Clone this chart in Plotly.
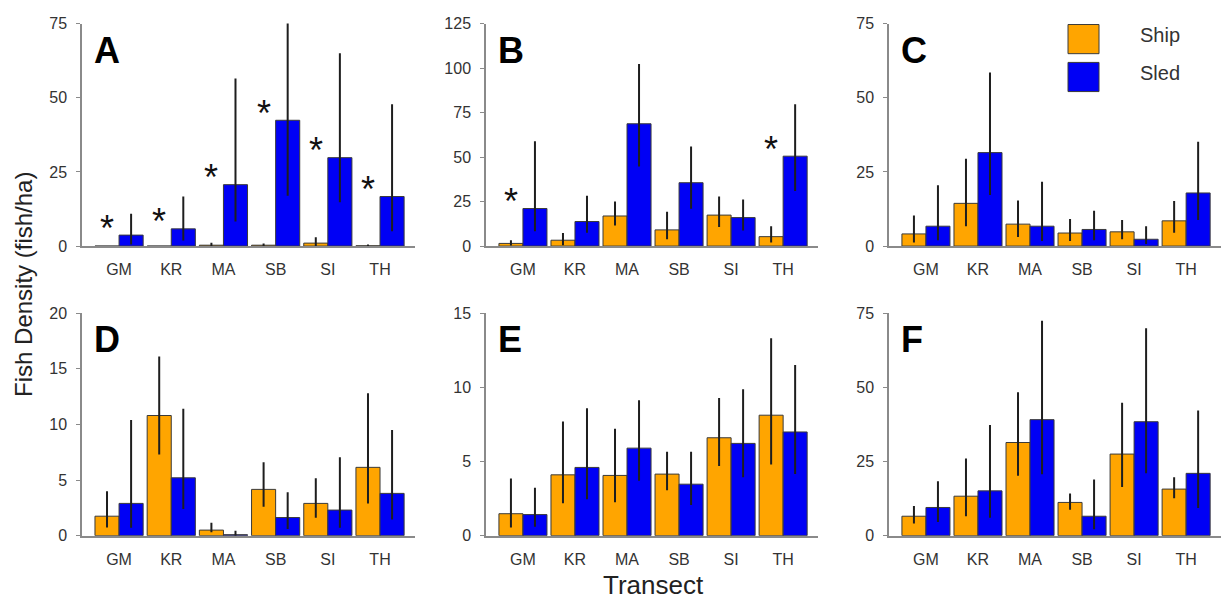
import plotly.graph_objects as go

categories = ["GM", "KR", "MA", "SB", "SI", "TH"]
panel_letters = ["A", "B", "C", "D", "E", "F"]
y_max = [75, 125, 75, 20, 15, 75]
y_dtick = [25, 25, 25, 5, 5, 25]

# Panel A
ship_A = [0.0, 0.0, 0.3, 0.3, 1.0, 0.1]
ship_A_hi = [0.0, 0.0, 1.1, 0.9, 3.0, 0.5]
ship_A_lo = [0.0, 0.0, 0.0, 0.0, 0.0, 0.0]
sled_A = [3.7, 5.8, 20.7, 42.4, 29.8, 16.7]
sled_A_hi = [10.9, 16.7, 56.5, 82.0, 65.0, 47.8]
sled_A_lo = [0.5, 1.9, 8.3, 17.0, 14.8, 5.0]
sig_A = [1, 1, 1, 1, 1, 1]

# Panel B
ship_B = [1.5, 3.3, 16.9, 9.1, 17.4, 5.3]
ship_B_hi = [3.3, 7.4, 25.0, 19.3, 27.8, 11.1]
ship_B_lo = [0.3, 0.5, 11.6, 3.8, 10.7, 2.0]
sled_B = [21.1, 13.8, 68.7, 35.6, 16.0, 50.5]
sled_B_hi = [58.9, 28.3, 102.3, 56.0, 26.2, 79.6]
sled_B_lo = [8.4, 7.5, 44.7, 21.0, 8.7, 31.0]
sig_B = [1, 0, 0, 0, 0, 1]

# Panel C
ship_C = [4.1, 14.4, 7.4, 4.4, 4.8, 8.5]
ship_C_hi = [10.3, 29.4, 15.4, 9.1, 8.8, 15.2]
ship_C_lo = [1.2, 6.7, 3.1, 1.7, 2.3, 4.5]
sled_C = [6.7, 31.5, 6.7, 5.6, 2.3, 17.9]
sled_C_hi = [20.5, 58.5, 21.7, 11.9, 6.7, 35.2]
sled_C_lo = [2.0, 17.2, 1.7, 2.0, 0.7, 8.8]
sig_C = [0, 0, 0, 0, 0, 0]

# Panel D
ship_D = [1.75, 10.8, 0.5, 4.16, 2.9, 6.14]
ship_D_hi = [4.0, 16.1, 1.16, 6.6, 5.15, 12.8]
ship_D_lo = [0.73, 7.3, 0.3, 2.6, 1.6, 2.9]
sled_D = [2.9, 5.2, 0.09, 1.63, 2.3, 3.8]
sled_D_hi = [10.4, 11.4, 0.44, 3.9, 7.05, 9.5]
sled_D_lo = [0.7, 2.4, 0.0, 0.6, 0.7, 1.46]
sig_D = [0, 0, 0, 0, 0, 0]

# Panel E
ship_E = [1.48, 4.1, 4.06, 4.15, 6.6, 8.12]
ship_E_hi = [3.86, 7.69, 7.2, 5.65, 9.28, 13.3]
ship_E_lo = [0.55, 2.18, 2.25, 3.06, 4.7, 4.8]
sled_E = [1.42, 4.6, 5.9, 3.47, 6.22, 6.99]
sled_E_hi = [3.23, 8.58, 9.13, 5.65, 9.87, 11.5]
sled_E_lo = [0.6, 2.45, 3.7, 2.07, 3.93, 4.15]
sig_E = [0, 0, 0, 0, 0, 0]

# Panel F
ship_F = [6.55, 13.3, 31.4, 11.2, 27.5, 15.7]
ship_F_hi = [10.0, 26.0, 48.3, 14.2, 44.8, 19.7]
ship_F_lo = [4.1, 6.55, 20.2, 8.7, 16.4, 12.6]
sled_F = [9.5, 15.1, 39.1, 6.55, 38.4, 21.0]
sled_F_hi = [18.3, 37.3, 72.4, 18.9, 69.9, 42.2]
sled_F_lo = [4.6, 6.0, 20.7, 2.2, 21.0, 9.3]
sig_F = [0, 0, 0, 0, 0, 0]

panels = [
    (ship_A, ship_A_hi, ship_A_lo, sled_A, sled_A_hi, sled_A_lo, sig_A),
    (ship_B, ship_B_hi, ship_B_lo, sled_B, sled_B_hi, sled_B_lo, sig_B),
    (ship_C, ship_C_hi, ship_C_lo, sled_C, sled_C_hi, sled_C_lo, sig_C),
    (ship_D, ship_D_hi, ship_D_lo, sled_D, sled_D_hi, sled_D_lo, sig_D),
    (ship_E, ship_E_hi, ship_E_lo, sled_E, sled_E_hi, sled_E_lo, sig_E),
    (ship_F, ship_F_hi, ship_F_lo, sled_F, sled_F_hi, sled_F_lo, sig_F),
]

ORANGE = "#FFA500"
BLUE = "#0000F5"
OUTLINE = "#3a3a3a"
ERR = "#1e1e1e"
AXIS = "#8a8a8a"
TEXT = "#333333"
FONT = "Liberation Sans, Arial, sans-serif"

W, H = 1221, 602
xdom_px = [(82, 415), (486, 818), (889, 1221)]
ydom_px = [(16, 245), (314, 543)]

BARGAP = 0.077
BAR_W = (1 - BARGAP) / 2

idx = list(range(len(categories)))
fig = go.Figure()
annotations = []
layout_axes = {}

for k, (sh, sh_hi, sh_lo, sl, sl_hi, sl_lo, sig) in enumerate(panels):
    r, c = divmod(k, 3)
    xa = "x" if k == 0 else f"x{k+1}"
    ya = "y" if k == 0 else f"y{k+1}"
    for vals, hi, lo, col, name in [(sh, sh_hi, sh_lo, ORANGE, "Ship"),
                                    (sl, sl_hi, sl_lo, BLUE, "Sled")]:
        fig.add_trace(go.Bar(
            x=idx, y=vals, name=name, showlegend=False,
            xaxis=xa, yaxis=ya,
            marker=dict(color=col, line=dict(color=OUTLINE, width=1)),
            error_y=dict(type="data", symmetric=False,
                         array=[h - v for h, v in zip(hi, vals)],
                         arrayminus=[v - l for v, l in zip(vals, lo)],
                         width=0, thickness=2, color=ERR),
        ))
    # significance asterisks above the ship bar position
    for i, s in enumerate(sig):
        if s:
            annotations.append(dict(
                x=idx[i] - BAR_W / 2, y=sl[i], xref=xa, yref=ya,
                text="*", showarrow=False, xanchor="center", yanchor="middle",
                yshift=7, font=dict(family=FONT, size=36, color="#111111")))
    # panel letter
    annotations.append(dict(
        x=0, y=1, xref=f"{xa} domain", yref=f"{ya} domain",
        text=f"<b>{panel_letters[k]}</b>", showarrow=False,
        xanchor="left", yanchor="top", xshift=10, yshift=-4,
        font=dict(family=FONT, size=36, color="#000000")))

    x0, x1 = xdom_px[c]
    y0, y1 = ydom_px[r]
    xkey = "xaxis" if k == 0 else f"xaxis{k+1}"
    ykey = "yaxis" if k == 0 else f"yaxis{k+1}"
    layout_axes[xkey] = dict(
        domain=[x0 / W, x1 / W], anchor=ya, range=[-0.71, 5.67],
        tickmode="array", tickvals=idx, ticktext=categories,
        showline=True, linecolor=AXIS, linewidth=1.5, ticks="",
        showgrid=False, zeroline=False, ticklabelstandoff=8,
        tickfont=dict(family=FONT, size=16, color=TEXT), fixedrange=True)
    layout_axes[ykey] = dict(
        domain=[1 - y1 / H, 1 - y0 / H], anchor=xa, range=[0, y_max[k]],
        dtick=y_dtick[k], tick0=0, ticks="outside", ticklen=4, tickcolor=AXIS,
        showline=True, linecolor=AXIS, linewidth=1.5,
        showgrid=False, zeroline=False, ticklabelstandoff=6,
        tickfont=dict(family=FONT, size=16, color=TEXT), fixedrange=True)

# axis titles
annotations.append(dict(
    x=24 / W, y=1 - 285 / H, xref="paper", yref="paper",
    text="Fish Density (fish/ha)", textangle=-90, showarrow=False,
    xanchor="center", yanchor="middle",
    font=dict(family=FONT, size=24, color="#222222")))
annotations.append(dict(
    x=653 / W, y=1 - 594 / H, xref="paper", yref="paper",
    text="Transect", showarrow=False, xanchor="center", yanchor="middle",
    font=dict(family=FONT, size=26, color="#222222")))

# legend drawn in panel C
legend_items = [("Ship", ORANGE), ("Sled", BLUE)]
shapes = []
for j, (lab, col) in enumerate(legend_items):
    top = 17 + j * 39
    shapes.append(dict(type="rect", xref="paper", yref="paper",
                       x0=1068 / W, x1=1099 / W,
                       y0=1 - (top + 30) / H, y1=1 - top / H,
                       fillcolor=col, line=dict(color=OUTLINE, width=1)))
    annotations.append(dict(
        x=1138 / W, y=1 - (top + 11) / H, xref="paper", yref="paper",
        text=lab, showarrow=False, xanchor="left", yanchor="middle",
        font=dict(family=FONT, size=20, color=TEXT)))

fig.update_layout(
    width=W, height=H,
    margin=dict(l=0, r=0, t=0, b=0),
    paper_bgcolor="white", plot_bgcolor="white",
    barmode="group", bargap=BARGAP, bargroupgap=0,
    annotations=annotations, shapes=shapes,
    showlegend=False,
    **layout_axes,
)

fig.write_html("out.html", config={"displayModeBar": False},
               post_script="document.body.style.margin='0';document.body.style.padding='0';")
